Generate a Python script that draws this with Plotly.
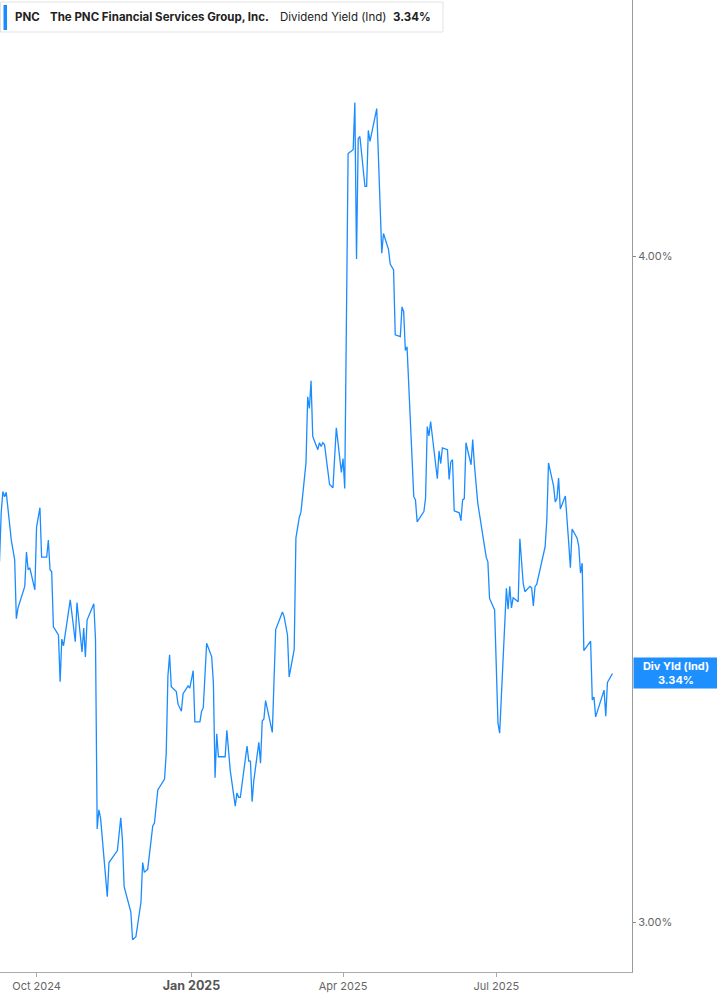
import math
import plotly.graph_objects as go

dates = [
    "2024-09-09", "2024-09-10", "2024-09-11", "2024-09-12", "2024-09-13", "2024-09-16", "2024-09-18",
    "2024-09-19", "2024-09-20", "2024-09-24", "2024-09-25", "2024-09-26", "2024-09-27", "2024-09-30",
    "2024-10-01", "2024-10-03", "2024-10-04", "2024-10-07", "2024-10-08", "2024-10-09", "2024-10-10",
    "2024-10-11", "2024-10-14", "2024-10-15", "2024-10-16", "2024-10-17", "2024-10-21", "2024-10-24",
    "2024-10-25", "2024-10-28", "2024-10-29", "2024-10-30", "2024-10-31", "2024-11-04", "2024-11-05",
    "2024-11-06", "2024-11-07", "2024-11-08", "2024-11-12", "2024-11-13", "2024-11-18", "2024-11-20",
    "2024-11-21", "2024-11-22", "2024-11-26", "2024-11-27", "2024-11-29", "2024-12-02", "2024-12-03",
    "2024-12-04", "2024-12-06", "2024-12-09", "2024-12-10", "2024-12-12", "2024-12-16", "2024-12-17",
    "2024-12-18", "2024-12-19", "2024-12-20", "2024-12-23", "2024-12-24", "2024-12-26", "2024-12-27",
    "2024-12-30", "2024-12-31", "2025-01-02", "2025-01-03", "2025-01-06", "2025-01-07", "2025-01-08",
    "2025-01-10", "2025-01-13", "2025-01-14", "2025-01-15", "2025-01-16", "2025-01-17", "2025-01-21",
    "2025-01-22", "2025-01-24", "2025-01-27", "2025-01-28", "2025-01-29", "2025-01-30", "2025-02-03",
    "2025-02-04", "2025-02-05", "2025-02-06", "2025-02-07", "2025-02-10", "2025-02-11", "2025-02-12",
    "2025-02-13", "2025-02-14", "2025-02-18", "2025-02-20", "2025-02-24", "2025-02-25", "2025-02-27",
    "2025-02-28", "2025-03-03", "2025-03-04", "2025-03-06", "2025-03-07", "2025-03-10", "2025-03-11",
    "2025-03-12", "2025-03-13", "2025-03-14", "2025-03-17", "2025-03-18", "2025-03-19", "2025-03-20",
    "2025-03-21", "2025-03-24", "2025-03-26", "2025-03-28", "2025-03-31", "2025-04-01", "2025-04-02",
    "2025-04-04", "2025-04-07", "2025-04-08", "2025-04-09", "2025-04-10", "2025-04-11", "2025-04-14",
    "2025-04-15", "2025-04-16", "2025-04-17", "2025-04-21", "2025-04-24", "2025-04-25", "2025-04-28",
    "2025-04-29", "2025-05-01", "2025-05-02", "2025-05-05", "2025-05-06", "2025-05-07", "2025-05-08",
    "2025-05-09", "2025-05-13", "2025-05-14", "2025-05-15", "2025-05-19", "2025-05-20", "2025-05-21",
    "2025-05-22", "2025-05-23", "2025-05-27", "2025-05-28", "2025-05-29", "2025-05-30", "2025-06-02",
    "2025-06-03", "2025-06-04", "2025-06-05", "2025-06-06", "2025-06-09", "2025-06-10", "2025-06-11",
    "2025-06-12", "2025-06-13", "2025-06-16", "2025-06-17", "2025-06-18", "2025-06-20", "2025-06-25",
    "2025-06-26", "2025-06-27", "2025-06-30", "2025-07-02", "2025-07-03", "2025-07-07", "2025-07-08",
    "2025-07-09", "2025-07-10", "2025-07-11", "2025-07-14", "2025-07-15", "2025-07-17", "2025-07-18",
    "2025-07-21", "2025-07-22", "2025-07-23", "2025-07-24", "2025-07-25", "2025-07-28", "2025-07-30",
    "2025-07-31", "2025-08-01", "2025-08-04", "2025-08-05", "2025-08-06", "2025-08-07", "2025-08-08",
    "2025-08-11", "2025-08-13", "2025-08-14", "2025-08-15", "2025-08-18", "2025-08-19", "2025-08-20",
    "2025-08-21", "2025-08-22", "2025-08-26", "2025-08-27", "2025-08-28", "2025-08-29", "2025-09-03",
    "2025-09-04", "2025-09-05", "2025-09-08",
]

div_yield = [
    3.505, 3.580, 3.613, 3.605, 3.612, 3.538, 3.508,
    3.420, 3.436, 3.468, 3.520, 3.493, 3.496, 3.463,
    3.558, 3.588, 3.512, 3.512, 3.538, 3.493, 3.490,
    3.408, 3.396, 3.328, 3.390, 3.380, 3.448, 3.386,
    3.444, 3.371, 3.406, 3.364, 3.418, 3.442, 3.389,
    3.123, 3.149, 3.138, 3.033, 3.078, 3.094, 3.138,
    3.108, 3.046, 3.013, 2.977, 2.981, 3.026, 3.078,
    3.065, 3.069, 3.127, 3.131, 3.176, 3.191, 3.227,
    3.336, 3.367, 3.321, 3.314, 3.296, 3.286, 3.311,
    3.322, 3.319, 3.344, 3.271, 3.271, 3.286, 3.291,
    3.384, 3.364, 3.327, 3.193, 3.254, 3.222, 3.222,
    3.259, 3.203, 3.154, 3.172, 3.166, 3.166, 3.237,
    3.216, 3.216, 3.160, 3.189, 3.242, 3.213, 3.272,
    3.275, 3.301, 3.256, 3.404, 3.430, 3.423, 3.396,
    3.335, 3.375, 3.541, 3.573, 3.581, 3.658, 3.764,
    3.745, 3.790, 3.700, 3.679, 3.690, 3.684, 3.690,
    3.687, 3.624, 3.619, 3.714, 3.643, 3.665, 3.618,
    4.181, 4.188, 4.274, 3.995, 4.208, 4.212, 4.122,
    4.122, 4.223, 4.203, 4.263, 4.005, 4.039, 4.011,
    3.986, 3.976, 3.866, 3.863, 3.913, 3.905, 3.840,
    3.846, 3.605, 3.600, 3.566, 3.582, 3.603, 3.716,
    3.701, 3.724, 3.633, 3.677, 3.657, 3.682, 3.679,
    3.632, 3.660, 3.663, 3.583, 3.580, 3.568, 3.600,
    3.602, 3.690, 3.655, 3.695, 3.655, 3.595, 3.512,
    3.505, 3.450, 3.433, 3.269, 3.255, 3.465, 3.434,
    3.468, 3.436, 3.451, 3.445, 3.540, 3.472, 3.460,
    3.468, 3.466, 3.439, 3.468, 3.471, 3.506, 3.528,
    3.569, 3.658, 3.622, 3.597, 3.602, 3.634, 3.586,
    3.606, 3.534, 3.496, 3.555, 3.541, 3.528, 3.488,
    3.503, 3.373, 3.387, 3.302, 3.306, 3.278, 3.316,
    3.279, 3.327, 3.340,
]

x_tick_vals = ["2024-10-01", "2025-01-01", "2025-04-01", "2025-07-01"]
x_tick_text = [
    "Oct 2024",
    "<span style='font-size:12.5px;font-weight:bold;fill:#555'>Jan 2025</span>",
    "Apr 2025",
    "Jul 2025",
]
y_tick_vals = [3.0, 4.0]
y_tick_text = ["3.00%", "4.00%"]

ticker = "PNC"
company = "The PNC Financial Services Group, Inc."
metric = "Dividend Yield (Ind)"
last_label = "Div Yld (Ind)"
last_value = div_yield[-1]

LINE = "#1a8cff"
FONT = "Inter, Roboto, Arial, sans-serif"
W, H = 632.0, 972.0

fig = go.Figure()
fig.add_trace(go.Scatter(
    x=dates, y=div_yield, mode="lines",
    line=dict(color=LINE, width=1.3),
    hoverinfo="skip", showlegend=False,
))

fig.update_layout(
    width=717, height=1005,
    margin=dict(l=0, r=85, t=0, b=33),
    paper_bgcolor="white", plot_bgcolor="white",
    font=dict(family=FONT, size=11, color="#666"),
    xaxis=dict(
        type="date",
        range=["2024-09-09 07:00", "2025-09-19 14:00"],
        tickvals=x_tick_vals, ticktext=x_tick_text,
        showgrid=False, zeroline=False,
        showline=True, linecolor="#aaaaaa", linewidth=1,
        ticks="outside", ticklen=4, tickcolor="#aaaaaa",
        tickfont=dict(family=FONT, size=11, color="#666"),
    ),
    yaxis=dict(
        type="log", side="right",
        range=[0.467741, 0.650085],
        tickvals=y_tick_vals, ticktext=y_tick_text,
        showgrid=False, zeroline=False,
        showline=True, linecolor="#9a9a9a", linewidth=1,
        ticks="outside", ticklen=3, tickcolor="#888",
        tickfont=dict(family=FONT, size=11, color="#666"),
    ),
)

# header box
fig.add_shape(type="rect", xref="paper", yref="paper",
              x0=0.5 / W, x1=443 / W, y0=1 - 32 / H, y1=1 - 2 / H,
              line=dict(color="#e3e3e3", width=1), fillcolor="white", layer="above")
fig.add_shape(type="rect", xref="paper", yref="paper",
              x0=3.5 / W, x1=7 / W, y0=1 - 30 / H, y1=1 - 5 / H,
              line=dict(width=0), fillcolor=LINE, layer="above")

header = [
    (13, f"<b>{ticker}</b>"),
    (48, f"<b>{company}</b>"),
    (278, metric),
    (391, f"<b>{last_value:.2f}%</b>"),
]
for px, txt in header:
    fig.add_annotation(xref="paper", yref="paper", x=px / W, y=1 - 17 / H,
                       xanchor="left", yanchor="middle", text=txt, showarrow=False,
                       font=dict(family=FONT, size=11.5, color="#222"))

# last value label on right axis
fig.add_annotation(
    xref="paper", yref="y", x=1 + 1 / W, y=math.log10(last_value),
    xanchor="left", yanchor="middle", showarrow=False,
    text=f"<b>{last_label}</b><br><b>{last_value:.2f}%</b>",
    font=dict(family=FONT, size=11, color="white"),
    bgcolor="#1e8fff", width=80, height=26, borderpad=2, align="center",
)

fig.write_html(
    "out.html",
    config={"displayModeBar": False},
    post_script="document.body.style.margin='0px';document.body.style.overflow='hidden';",
)
